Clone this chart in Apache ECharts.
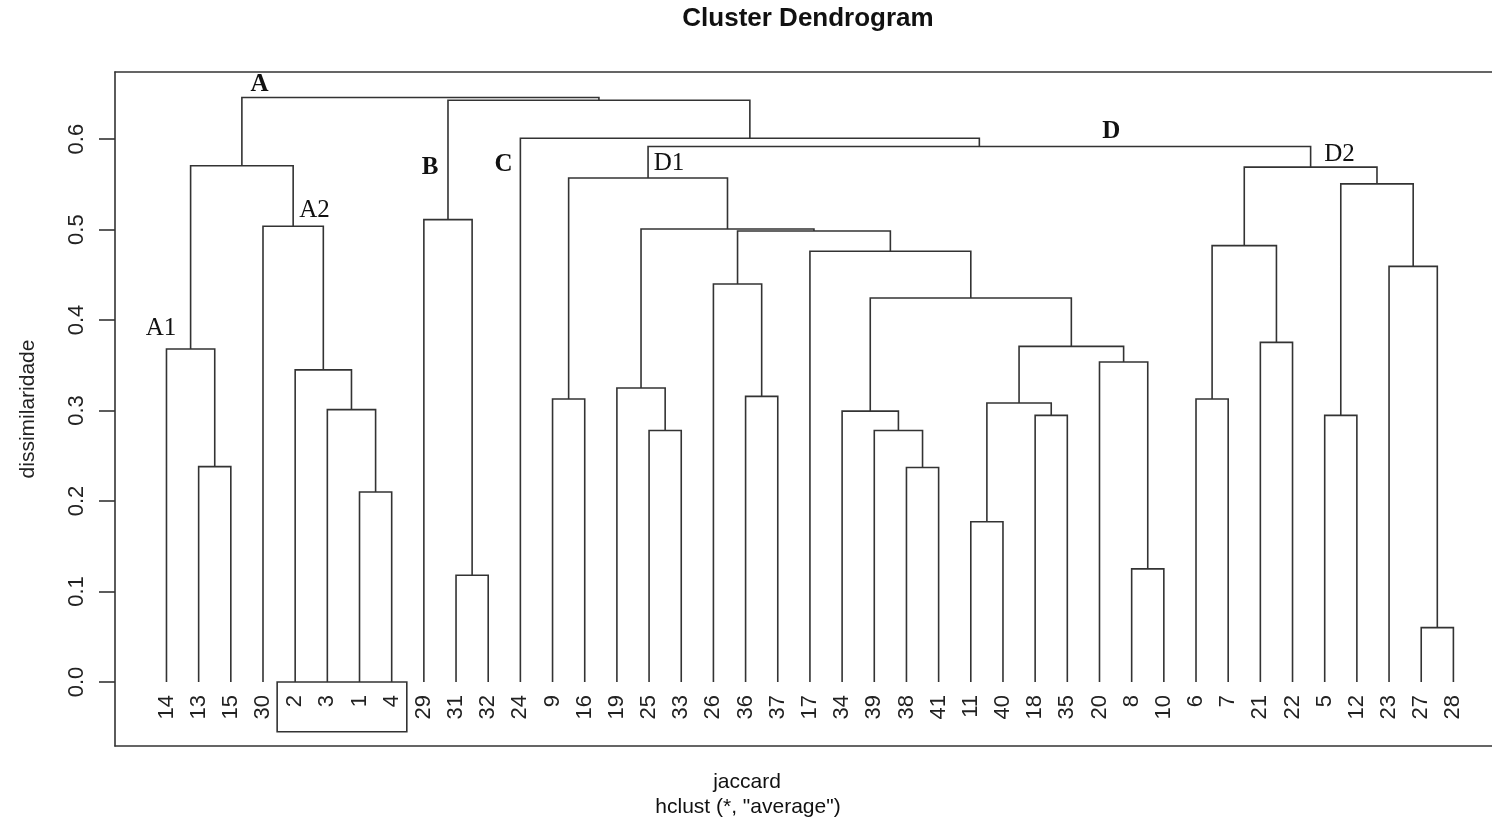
<!DOCTYPE html>
<html>
<head>
<meta charset="utf-8">
<title>Cluster Dendrogram</title>
<script src="https://cdn.jsdelivr.net/npm/echarts@6/dist/echarts.min.js"></script>
<style>
html,body{margin:0;padding:0;background:#fff;}
#main{width:1492px;height:822px;}
</style>
</head>
<body>
<div id="main"></div>
<script>
// ordem das folhas no dendrograma (numero da observacao)
var leafLabels = ['14','13','15','30','2','3','1','4','29','31','32','24','9','16','19','25','33',
	'26','36','37','17','34','39','38','41','11','40','18','35','20','8','10','6','7','21','22',
	'5','12','23','27','28'];

// passos de fusao, como hclust$merge: negativo = observacao, positivo = passo anterior
var mergeLeft  = [-27,-31,-8,-11,-1,-38,-13,-25,-39,-18,-5,-34,-3, 4,-9,-6,-36,-19,-2,-20,
	-14,14,-21,12,-26,-23,-17,16,25,18,-30,-29,11,15,28,21,34,-24,32,36];
var mergeRight = [-28,-32,-10,-40,-4,-41,-15,-33, 6,-35,-12, 9, 5,10,-16,-7,-37, 8,13, 3,
	  7,20,-22,22,17, 1,24,23,27,29,19, 2,26,30,33,31,35,37,38,39];
var mergeHeight = [0.060,0.118,0.125,0.177,0.210,0.237,0.238,0.278,0.278,0.2946,0.2946,0.2994,
	0.301,0.3083,0.3127,0.3127,0.3156,0.3249,0.345,0.3536,0.368,0.3709,0.3753,0.4244,0.4398,
	0.4594,0.476,0.4823,0.4985,0.5007,0.5037,0.511,0.5505,0.557,0.569,0.5705,0.5918,0.601,
	0.643,0.646];

var yTicks = [0, 0.1, 0.2, 0.3, 0.4, 0.5, 0.6];

// rotulos dos grupos
var annotText = ['A','B','C','D','A1','A2','D1','D2'];
var annotX    = [3.89, 9.19, 11.48, 30.37, 0.83, 5.60, 16.62, 37.46];
var annotY    = [0.660, 0.569, 0.572, 0.608, 0.391, 0.5216, 0.5736, 0.5835];
var annotBold = [true, true, true, true, false, false, false, false];

// retangulo em volta das folhas 2,3,1,4
var boxX = [4.44, 8.47];
var boxY = [-0.055, 0];

var leafPos = {};
for(var i=0;i<leafLabels.length;i++){
	leafPos[leafLabels[i]] = i+1;
}
var nodeX = [], nodeH = [];
function childX(c){ return c<0 ? leafPos[-c] : nodeX[c-1]; }
function childH(c){ return c<0 ? 0 : nodeH[c-1]; }

var segData = [];
for(var m=0;m<mergeHeight.length;m++){
	var a = mergeLeft[m], b = mergeRight[m];
	var xa = childX(a), xb = childX(b);
	nodeX[m] = (xa+xb)/2;
	nodeH[m] = mergeHeight[m];
	segData.push([xa, xb, childH(a), childH(b), mergeHeight[m]]);
}

var annotData = [];
for(var k=0;k<annotText.length;k++){
	annotData.push([annotX[k], annotY[k], k]);
}

var leafData = [];
for(var j=0;j<leafLabels.length;j++) leafData.push([j+1, 0, j]);

var lineColor = '#333';
var sans = '"Liberation Sans", Arial, sans-serif';
var serif = '"Liberation Serif", "Times New Roman", serif';

var myChart = echarts.init(document.getElementById('main'));
var option = {
	animation: false,
	backgroundColor: '#fff',
	grid: {left: 115, right: 0, top: 72, bottom: 76, outerBoundsMode: 'none', containLabel: false},
	graphic: [
		{type:'text', x:808, y:19, style:{text:'Cluster Dendrogram', font:'bold 26px '+sans, fill:'#111',
			textAlign:'center', textVerticalAlign:'middle', align:'center', verticalAlign:'middle'}},
		{type:'text', x:747, y:782, style:{text:'jaccard', font:'21px '+sans, fill:'#111',
			textAlign:'center', textVerticalAlign:'middle', align:'center', verticalAlign:'middle'}},
		{type:'text', x:748, y:807, style:{text:'hclust (*, "average")', font:'21px '+sans, fill:'#111',
			textAlign:'center', textVerticalAlign:'middle', align:'center', verticalAlign:'middle'}}
	],
	xAxis: [
		{type:'value', min:-0.6, max:42.2, position:'bottom',
			axisLine:{show:true, onZero:false, lineStyle:{color:lineColor, width:1.6}},
			axisTick:{show:false}, axisLabel:{show:false}, splitLine:{show:false}},
		{type:'value', min:-0.6, max:42.2, position:'top',
			axisLine:{show:true, onZero:false, lineStyle:{color:lineColor, width:1.6}},
			axisTick:{show:false}, axisLabel:{show:false}, splitLine:{show:false}}
	],
	yAxis: {
		type:'value', min:-0.0708, max:0.6742,
		axisLine:{show:true, onZero:false, lineStyle:{color:lineColor, width:1.6}},
		axisTick:{show:true, length:16, customValues:yTicks, lineStyle:{color:lineColor, width:1.6}},
		axisLabel:{show:true, customValues:yTicks, rotate:90, margin:27,
			fontSize:22, fontFamily:sans, color:'#222',
			formatter:function(v){ return v.toFixed(1); }},
		splitLine:{show:false},
		name:'dissimilaridade', nameLocation:'middle', nameGap:76,
		nameTextStyle:{fontSize:21, fontFamily:sans, color:'#222'}
	},
	series: [
		{
			name:'dendrograma', type:'custom', silent:true,
			xAxisIndex:0, yAxisIndex:0,
			renderItem:function(params, api){
				var p1 = api.coord([api.value(0), api.value(2)]);
				var p2 = api.coord([api.value(0), api.value(4)]);
				var p3 = api.coord([api.value(1), api.value(4)]);
				var p4 = api.coord([api.value(1), api.value(3)]);
				return {type:'polyline', shape:{points:[p1,p2,p3,p4]},
					style:{stroke:lineColor, lineWidth:1.6, fill:null}};
			},
			data: segData
		},
		{
			// rotulos das folhas, girados, logo abaixo de 0
			name:'folhas', type:'custom', silent:true,
			renderItem:function(params, api){
				var p = api.coord([api.value(0), api.value(1)]);
				return {type:'text', x:p[0], y:p[1]+13, rotation:Math.PI/2,
					style:{text:leafLabels[api.value(2)], fill:'#222', font:'22px '+sans,
						textAlign:'right', textVerticalAlign:'middle', align:'right', verticalAlign:'middle'}};
			},
			data: leafData
		},
		{
			name:'caixa', type:'custom', silent:true,
			renderItem:function(params, api){
				var tl = api.coord([api.value(0), api.value(3)]);
				var br = api.coord([api.value(1), api.value(2)]);
				return {type:'rect', shape:{x:tl[0], y:tl[1], width:br[0]-tl[0], height:br[1]-tl[1]},
					style:{stroke:lineColor, lineWidth:1.6, fill:null}};
			},
			data: [[boxX[0], boxX[1], boxY[0], boxY[1]]]
		},
		{
			name:'grupos', type:'custom', silent:true,
			renderItem:function(params, api){
				var p = api.coord([api.value(0), api.value(1)]);
				var idx = api.value(2);
				return {type:'text', x:p[0], y:p[1],
					style:{text:annotText[idx], fill:'#111',
						font:(annotBold[idx] ? 'bold ' : '')+'25px '+serif,
						textAlign:'center', textVerticalAlign:'middle', align:'center', verticalAlign:'middle'}};
			},
			data: annotData
		}
	]
};
myChart.setOption(option);
</script>
</body>
</html>
